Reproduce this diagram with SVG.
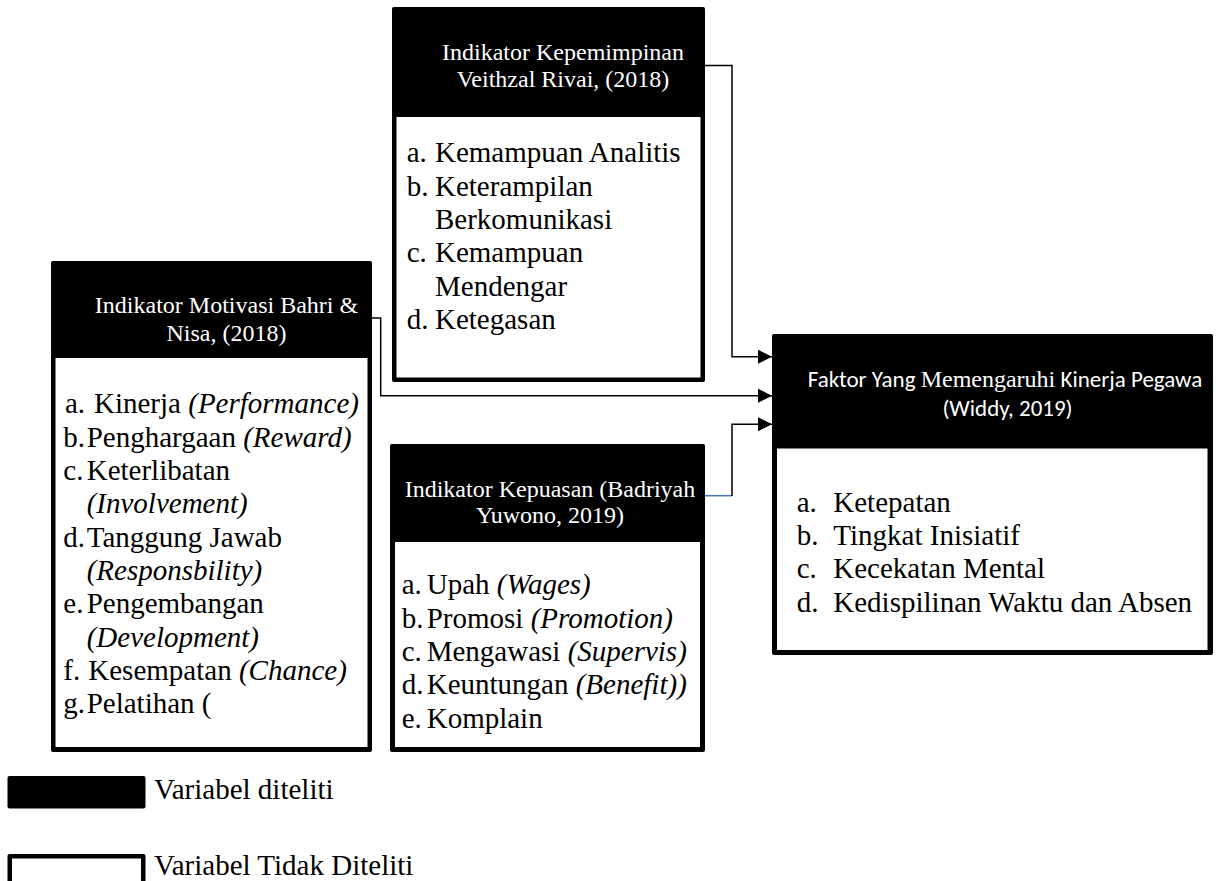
<svg xmlns="http://www.w3.org/2000/svg" width="1218" height="881" viewBox="0 0 1218 881">
  <style>
    .frame { fill: #000; }
    .body { fill: #fff; }
    .head { font-family: "Liberation Serif", "Times New Roman", serif; font-size: 24px; fill: #fff; text-anchor: middle; }
    .head-sans { font-family: Carlito, Lato, "Liberation Sans", sans-serif; font-size: 23px; fill: #fff; text-anchor: middle; }
    .item { font-family: "Liberation Serif", "Times New Roman", serif; font-size: 29px; fill: #000; }
    .it { font-style: italic; }
    .wire { fill: none; stroke: #000; stroke-width: 1.5; }
    .wire-blue { fill: none; stroke: #4472C4; stroke-width: 1.5; }
  </style>
  <defs>
    <marker id="arrow" markerUnits="userSpaceOnUse" markerWidth="15" markerHeight="15" refX="14" refY="7" orient="auto">
      <path d="M0,0 L14,7 L0,14 z" fill="#000"/>
    </marker>
  </defs>

  <rect x="0" y="0" width="1218" height="881" fill="#fff"/>

  <!-- connectors -->
  <g id="connectors">
    <path class="wire" d="M705,65.5 H732 V356.7 H772" marker-end="url(#arrow)"/>
    <path class="wire" d="M372,318 H380.7 V395.7 H772" marker-end="url(#arrow)"/>
    <path class="wire-blue" d="M704,495.7 H732"/>
    <path class="wire" d="M732,496 V424.3 H772" marker-end="url(#arrow)"/>
  </g>

  <!-- leadership indicators -->
  <g id="kepemimpinan">
    <rect class="frame" x="392" y="7" width="313" height="375" rx="2"/>
    <rect class="body" x="396.5" y="117" width="304" height="260.5"/>
    <text class="head" x="563" y="60">Indikator Kepemimpinan</text>
    <text class="head" x="563" y="87">Veithzal Rivai, (2018)</text>
    <text class="item" x="406.7" y="162.3">a.</text>
    <text class="item" x="435" y="162.3">Kemampuan Analitis</text>
    <text class="item" x="406.7" y="195.7">b.</text>
    <text class="item" x="435" y="195.7">Keterampilan</text>
    <text class="item" x="435" y="229">Berkomunikasi</text>
    <text class="item" x="406.7" y="262.3">c.</text>
    <text class="item" x="435" y="262.3">Kemampuan</text>
    <text class="item" x="435" y="295.7">Mendengar</text>
    <text class="item" x="406.7" y="329">d.</text>
    <text class="item" x="435" y="329">Ketegasan</text>
  </g>

  <!-- motivation indicators -->
  <g id="motivasi">
    <rect class="frame" x="51" y="261" width="321" height="491" rx="2"/>
    <rect class="body" x="55.5" y="358" width="312" height="389"/>
    <text class="head" x="226.5" y="313.3">Indikator Motivasi Bahri &amp;</text>
    <text class="head" x="226.5" y="340.7">Nisa, (2018)</text>
    <text class="item" x="65" y="413.3">a.</text>
    <text class="item" x="94" y="413.3">Kinerja <tspan class="it">(Performance)</tspan></text>
    <text class="item" x="63.3" y="446.7">b.</text>
    <text class="item" x="86.7" y="446.7">Penghargaan <tspan class="it">(Reward)</tspan></text>
    <text class="item" x="63.3" y="480">c.</text>
    <text class="item" x="86.7" y="480">Keterlibatan</text>
    <text class="item it" x="86.7" y="513.3">(Involvement)</text>
    <text class="item" x="63.3" y="546.7">d.</text>
    <text class="item" x="86.7" y="546.7">Tanggung Jawab</text>
    <text class="item it" x="86.7" y="580">(Responsbility)</text>
    <text class="item" x="63.3" y="613.3">e.</text>
    <text class="item" x="86.7" y="613.3">Pengembangan</text>
    <text class="item it" x="86.7" y="646.7">(Development)</text>
    <text class="item" x="63.3" y="680">f.</text>
    <text class="item" x="88.3" y="680">Kesempatan <tspan class="it">(Chance)</tspan></text>
    <text class="item" x="63.3" y="713.3">g.</text>
    <text class="item" x="86.7" y="713.3">Pelatihan (</text>
  </g>

  <!-- satisfaction indicators -->
  <g id="kepuasan">
    <rect class="frame" x="390" y="444" width="315" height="308" rx="2"/>
    <rect class="body" x="395" y="542" width="305" height="205"/>
    <text class="head" x="550" y="496.7">Indikator Kepuasan (Badriyah</text>
    <text class="head" x="550" y="523.3">Yuwono, 2019)</text>
    <text class="item" x="401.7" y="594.3">a.</text>
    <text class="item" x="426.7" y="594.3">Upah <tspan class="it">(Wages)</tspan></text>
    <text class="item" x="401.7" y="627.7">b.</text>
    <text class="item" x="426.7" y="627.7">Promosi <tspan class="it">(Promotion)</tspan></text>
    <text class="item" x="401.7" y="661">c.</text>
    <text class="item" x="426.7" y="661">Mengawasi <tspan class="it">(Supervis)</tspan></text>
    <text class="item" x="401.7" y="694.3">d.</text>
    <text class="item" x="426.7" y="694.3">Keuntungan <tspan class="it">(Benefit))</tspan></text>
    <text class="item" x="401.7" y="727.7">e.</text>
    <text class="item" x="426.7" y="727.7">Komplain</text>
  </g>

  <!-- performance factors -->
  <g id="faktor">
    <rect class="frame" x="772" y="334" width="441" height="321" rx="2"/>
    <rect class="body" x="777" y="448.5" width="430.5" height="201.5"/>
    <text class="head-sans" x="1005" y="387.3">Faktor Yang <tspan font-family="Liberation Serif, serif" font-size="24">Memengaruhi</tspan> Kinerja Pegawa</text>
    <text class="head-sans" x="1007.5" y="416">(Widdy, 2019)</text>
    <text class="item" x="796.7" y="511.7">a.</text>
    <text class="item" x="833.3" y="511.7">Ketepatan</text>
    <text class="item" x="796.7" y="545">b.</text>
    <text class="item" x="833.3" y="545">Tingkat Inisiatif</text>
    <text class="item" x="796.7" y="578.3">c.</text>
    <text class="item" x="833.3" y="578.3">Kecekatan Mental</text>
    <text class="item" x="796.7" y="611.7">d.</text>
    <text class="item" x="833.3" y="611.7">Kedispilinan Waktu dan Absen</text>
  </g>

  <!-- legend -->
  <g id="legend-diteliti">
    <rect class="frame" x="7.5" y="776" width="138" height="32.5" rx="2"/>
    <text class="item" x="154" y="799.3">Variabel diteliti</text>
  </g>
  <g id="legend-tidak">
    <rect class="frame" x="7.5" y="854" width="138" height="40" rx="2"/>
    <rect class="body" x="12" y="858.5" width="129" height="30"/>
    <text class="item" x="154" y="875">Variabel Tidak Diteliti</text>
  </g>
</svg>
